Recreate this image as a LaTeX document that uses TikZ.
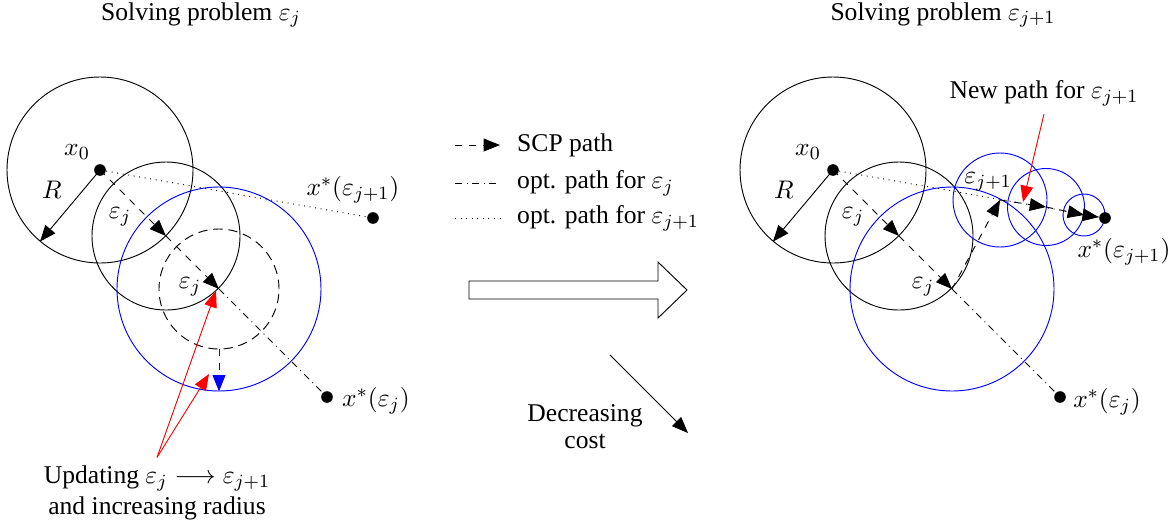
\documentclass[tikz,border=0pt]{standalone}
\usepackage[no-math]{fontspec}
\setmainfont{Liberation Serif}
\usetikzlibrary{arrows.meta}
\begin{document}
\begin{tikzpicture}[x=0.43pt,y=-0.43pt,
  every node/.style={font=\fontsize{11}{13.5}\selectfont},
  tip/.style={-{Triangle[length=7pt,width=5.5pt]}},
  scp/.style={dashed, tip},
  dot/.style={circle, fill, inner sep=0pt, minimum size=5pt},
  ring/.style={circle, draw, inner sep=0pt, minimum size={2*#1*0.43pt}},
  lbl/.style={inner sep=1pt}]
\useasboundingbox (0,0) rectangle (1175,522);

% titles
\node (t1) at (201,15) {Solving problem $\varepsilon_j$};
\node (t2) at (943,15) {Solving problem $\varepsilon_{j+1}$};

% ---------------- left panel ----------------
\node[ring=93] (ca) at (100,170) {};
\node[ring=74] (cb) at (166,236) {};
\node[ring=102, draw=blue] (cc) at (219,289) {};
\node[ring=60, dash pattern=on 4pt off 2.5pt] (cd) at (219,289) {};
\node[dot] (x0) at (100,170) {};
\node[dot] (xa) at (327,397) {};
\node[dot] (xb) at (373,218) {};

\draw[tip] (x0.center) -- (ca.230);
\draw[dotted] (x0) -- (xb);
\draw[dashdotted] (cd.center) -- (xa);
\draw[scp] (x0.center) -- (cb.center);
\draw[scp] (cb.center) -- (cd.center);
\draw[blue, scp] (cd.south) -- (cc.south);

\node[lbl] (lx0) at (77,152) {$x_0$};
\node[lbl] (lR) at (52,190) {$R$};
\node[lbl] (le1) at (120,217) {$\varepsilon_j$};
\node[lbl] (le2) at (190,287) {$\varepsilon_j$};
\node[lbl] (lxa) at (376,401) {$x^*(\varepsilon_j)$};
\node[lbl] (lxb) at (353,190) {$x^*(\varepsilon_{j+1})$};

\coordinate (ra) at (216,291);
\coordinate (rb) at (209,374);
\node[align=center] (upd) at (157,493) {Updating $\varepsilon_j \longrightarrow \varepsilon_{j+1}$\\and increasing radius};
\draw[red, tip] (upd.north) -- (ra);
\draw[red, tip] (upd.north) -- (rb);

% ---------------- middle ----------------
\coordinate (la1) at (455,145); \coordinate (lb1) at (500,145);
\coordinate (la2) at (455,183); \coordinate (lb2) at (500,183);
\coordinate (la3) at (455,218); \coordinate (lb3) at (500,218);
\draw[scp] (la1) -- (lb1);
\draw[dashdotted] (la2) -- (lb2);
\draw[dotted] (la3) -- (lb3);
\node[anchor=west] (lt1) at (509,145) {SCP path};
\node[anchor=west] (lt2) at (509,183) {opt. path for $\varepsilon_j$};
\node[anchor=west] (lt3) at (509,218) {opt. path for $\varepsilon_{j+1}$};

\draw (469,281) -- (658,281) -- (658,262) -- (687,290) -- (658,318) -- (658,299) -- (469,299) -- cycle;

\coordinate (d1) at (610,355);
\coordinate (d2) at (688,433);
\draw[tip] (d1) -- (d2);
\node[align=center] (dec) at (585,427) {Decreasing\\[-2pt]cost};

% ---------------- right panel ----------------
\node[ring=93] (rca) at (833,170) {};
\node[ring=74] (rcb) at (899,236) {};
\node[ring=102, draw=blue] (rcc) at (952,289) {};
\node[ring=47, draw=blue] (rcA) at (1000,200) {};
\node[ring=38.5, draw=blue] (rcB) at (1046,207) {};
\node[ring=21, draw=blue] (rcC) at (1084,215) {};
\node[dot] (rx0) at (833,170) {};
\node[dot] (rxa) at (1060,397) {};
\node[dot] (rxb) at (1105,218) {};

\draw[tip] (rx0.center) -- (rca.230);
\draw[dotted] (rx0) -- (rxb);
\draw[dashdotted] (rcc.center) -- (rxa);
\draw[scp] (rx0.center) -- (rcb.center);
\draw[scp] (rcb.center) -- (rcc.center);
\draw[scp] (rcc.center) -- (rcA.center);
\draw[scp] (rcA.center) -- (rcB.center);
\draw[scp] (rcB.center) -- (rcC.center);
\draw[scp] (rcC.center) -- (rxb);

\node[lbl] (rlx0) at (808,152) {$x_0$};
\node[lbl] (rlR) at (784,190) {$R$};
\node[lbl] (rle1) at (853,217) {$\varepsilon_j$};
\node[lbl] (rle2) at (923,287) {$\varepsilon_j$};
\node[lbl] (rle3) at (988,182) {$\varepsilon_{j+1}$};
\node[lbl] (rlxa) at (1107,402) {$x^*(\varepsilon_j)$};
\node[lbl] (rlxb) at (1124,252) {$x^*(\varepsilon_{j+1})$};

\node (np) at (1044,93) {New path for $\varepsilon_{j+1}$};
\coordinate (nt) at (1023,202);
\draw[red, tip] (np.south) -- (nt);
\end{tikzpicture}
\end{document}
